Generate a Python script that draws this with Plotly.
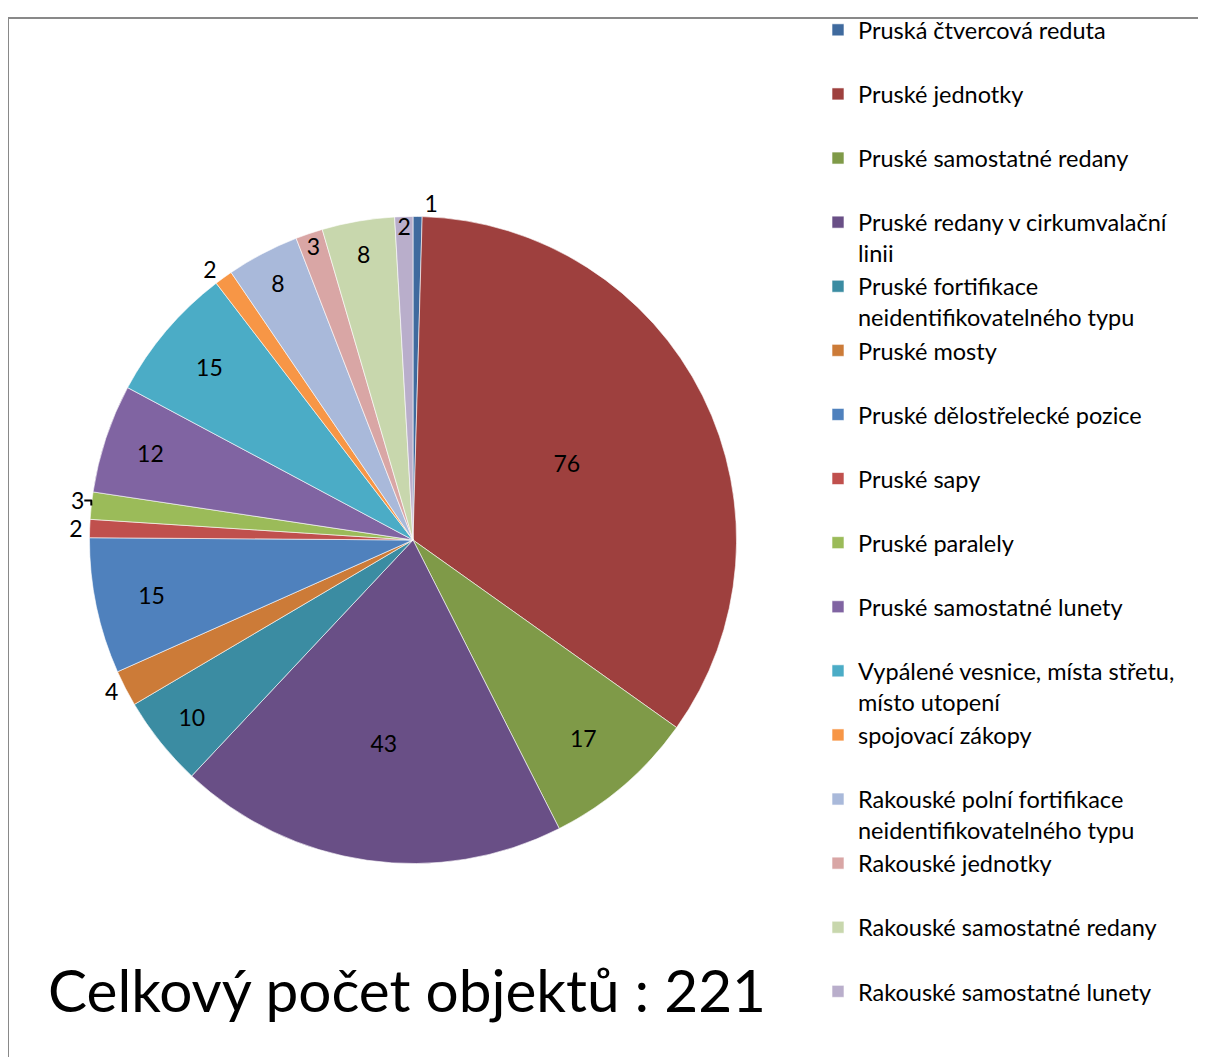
import plotly.graph_objects as go

labels = [
    "Pruská čtvercová reduta",
    "Pruské jednotky",
    "Pruské samostatné redany",
    "Pruské redany v cirkumvalační<br>linii",
    "Pruské fortifikace<br>neidentifikovatelného typu",
    "Pruské mosty",
    "Pruské dělostřelecké pozice",
    "Pruské sapy",
    "Pruské paralely",
    "Pruské samostatné lunety",
    "Vypálené vesnice, místa střetu,<br>místo utopení",
    "spojovací zákopy",
    "Rakouské polní fortifikace<br>neidentifikovatelného typu",
    "Rakouské jednotky",
    "Rakouské samostatné redany",
    "Rakouské samostatné lunety",
]
values = [1, 76, 17, 43, 10, 4, 15, 2, 3, 12, 15, 2, 8, 3, 8, 2]
colors = ["#3F6A9E", "#9E403E", "#7F9A48", "#694F86", "#3B8CA2", "#CC7B38",
          "#4F81BD", "#C0504D", "#9BBB59", "#8064A2", "#4BACC6", "#F79646",
          "#A9B9DA", "#D9A6A5", "#C8D7AD", "#B9AECB"]
text_positions = ["outside", "inside", "inside", "inside", "inside", "outside",
                  "inside", "outside", "outside", "inside", "inside", "outside",
                  "inside", "inside", "inside", "inside"]
title_text = "Celkový počet objektů : 221"

# pad single-line legend entries to two lines for even spacing
legend_labels = [l if "<br>" in l else l + "<br>\u00a0" for l in labels]

W, H = 1206, 1057
OFF = 8  # page body margin
FONT = "Lato"


def px_x(p):
    return (p - OFF) / W


def px_y(p):
    return 1 - (p - OFF) / H


fig = go.Figure(go.Pie(
    labels=legend_labels,
    values=values,
    sort=False,
    direction="clockwise",
    rotation=0,
    marker=dict(colors=colors, line=dict(color="#FFFFFF", width=0.6)),
    textinfo="value",
    textposition=text_positions,
    insidetextorientation="horizontal",
    textfont=dict(family=FONT, size=23, color="#000000"),
    domain=dict(x=[px_x(87), px_x(739)], y=[px_y(862), px_y(210)]),
    hoverinfo="label+value",
))

fig.update_layout(
    width=W, height=H,
    margin=dict(l=0, r=0, t=0, b=0),
    paper_bgcolor="white",
    plot_bgcolor="white",
    font=dict(family=FONT, color="#000000"),
    uniformtext=dict(minsize=23, mode="show"),
    legend=dict(
        x=px_x(818), xanchor="left",
        y=px_y(0), yanchor="top",
        font=dict(family=FONT, size=23.5, color="#000000"),
        valign="top",
        bgcolor="rgba(0,0,0,0)",
        maxheight=3000,
    ),
    shapes=[dict(type="rect", xref="paper", yref="paper",
                 x0=px_x(8), x1=1.05, y0=-0.05, y1=px_y(10),
                 line=dict(color="#898989", width=2), fillcolor="rgba(0,0,0,0)",
                 layer="below")],
    annotations=[dict(text=title_text, xref="paper", yref="paper",
                      x=px_x(46), y=px_y(988), xanchor="left", yanchor="middle",
                      showarrow=False, font=dict(family=FONT, size=58.5, color="#000000"))],
)

fig.write_html("out.html")
